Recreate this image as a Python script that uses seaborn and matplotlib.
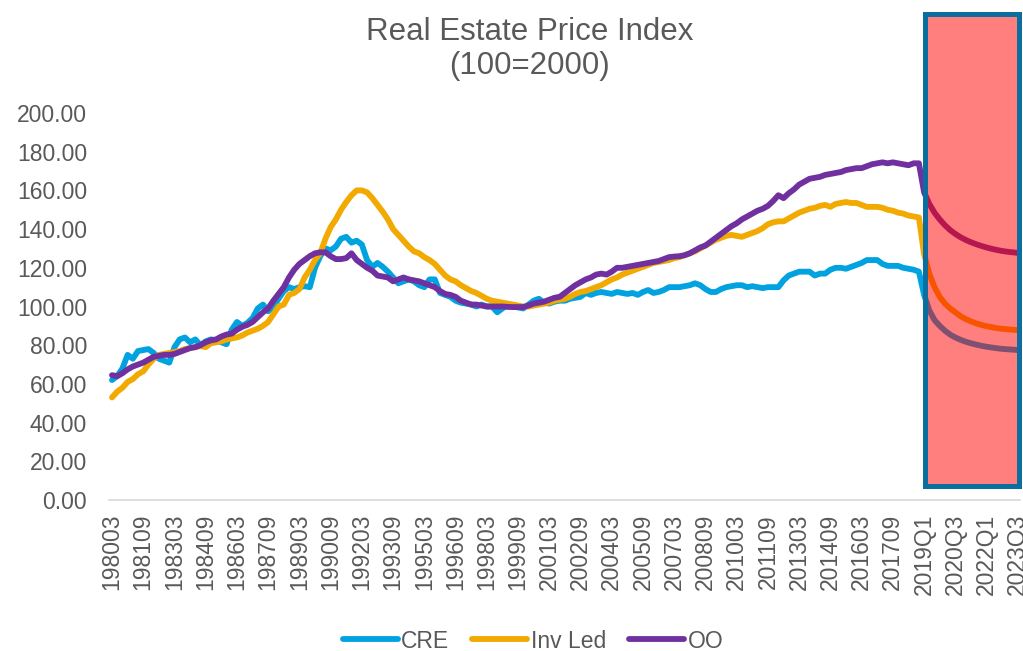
import pandas as pd
import matplotlib
matplotlib.use("Agg")
import matplotlib.pyplot as plt
import seaborn as sns
from matplotlib.patches import Rectangle

# quarterly index values, 1980Q1 .. 2018Q4 (history) and 2019Q1 .. 2023Q3 (forecast)
cre_hist = [62, 64, 68, 75, 73, 77, 77.5, 78, 76, 73,
            72, 71, 79, 83, 84, 81.5, 83, 80, 82, 83,
            82.5, 81.5, 80.5, 88, 92, 90, 91.5, 94, 99, 101,
            97.5, 100, 104, 108, 110, 109, 110, 110.5, 110, 120,
            126, 130, 129, 131, 135, 136, 133, 134, 132, 124,
            120.5, 122.5, 120.5, 118, 115, 112, 113, 114, 113, 111,
            110, 114, 114, 107, 106, 105, 103, 102, 101.5, 101,
            100, 101, 100, 100, 97, 99, 101, 100, 99.5, 99,
            101, 103, 104, 102, 101.5, 102.5, 103, 103, 104, 104.5,
            105, 107, 106, 107, 107.5, 107, 106.5, 107.5, 107, 106.5,
            107, 106, 107.5, 108.5, 107, 107.5, 108.5, 110, 110, 110,
            110.5, 111, 112, 111, 109, 107.5, 107.5, 109, 110, 110.5,
            111, 111, 110, 110.5, 110, 109.5, 110, 110, 110, 113.5,
            116, 117, 118, 118, 118, 116, 117, 117, 119, 120,
            120, 119.5, 120.5, 121.5, 122.5, 124, 124, 124, 122, 121,
            121, 121, 120, 119.5, 119, 118]
cre_fcst = [106, 98, 93, 90, 87.5, 85.5, 84, 82.8, 81.8, 81,
            80.3, 79.7, 79.2, 78.8, 78.4, 78.1, 77.9, 77.7, 77.5]

inv_hist = [53, 56, 58, 61, 62.5, 65, 66.5, 70, 73, 75,
            75.5, 76, 76.5, 77, 78, 78.5, 79, 79.5, 79, 81,
            81.5, 82, 83, 83.5, 84, 85, 86.5, 87.5, 88.5, 90,
            92, 96, 100, 101, 106, 107, 109, 115, 119, 124,
            127.5, 135, 141, 145, 150, 154, 157.5, 160, 160, 159,
            156, 152.5, 149, 145, 140, 137, 134, 131, 128.5, 127.5,
            125.5, 124, 122, 119, 116, 114, 113, 111, 109.5, 108,
            107, 105.5, 104, 103, 102.5, 102, 101.5, 101, 100.5, 100,
            100, 100.5, 101, 101.5, 102, 103, 103.5, 104, 105, 106.5,
            107.5, 108, 109, 110, 111, 112.5, 114, 115, 116.5, 117.5,
            118.5, 119.5, 120.5, 121.5, 122.5, 123, 123.5, 124, 125, 125.5,
            126.5, 127.5, 128.5, 130, 131.5, 133, 134.5, 135.5, 136.5, 137,
            136.5, 136, 137, 138, 139, 140.5, 142.5, 143.5, 144, 144,
            145.5, 147, 148.5, 149.5, 150.5, 151, 152, 152.5, 151.5, 153,
            153.5, 154, 153.5, 153.5, 152.5, 151.5, 151.5, 151.5, 151, 150,
            149.5, 148.5, 148, 147, 146.5, 146]
inv_fcst = [127, 117, 110, 105, 101.5, 99, 97, 95, 93.5, 92.3,
            91.3, 90.5, 89.8, 89.3, 88.8, 88.5, 88.2, 88, 87.8]

oo_hist = [64.5, 64, 65.5, 67.5, 69, 70, 71, 72.5, 74, 74.5,
           75, 75, 75.5, 76.5, 77.5, 78.5, 79, 80, 81.5, 82.5,
           83, 84.5, 85.5, 86, 88, 89.5, 90.5, 92, 94.5, 97,
           99, 103, 106.5, 110, 115, 119, 122, 124, 126, 127.5,
           128, 128, 126, 124.5, 124.5, 125, 127.5, 124, 122, 120,
           118.5, 116, 115.5, 115, 113, 114, 115, 114, 113.5, 113,
           112, 111, 110, 108, 106.5, 106, 105, 103, 102, 101,
           101, 100.5, 100, 100, 100, 100, 99.8, 99.7, 99.7, 99.7,
           100.5, 101.5, 102, 102.5, 103.5, 104.5, 105, 107, 109, 111,
           112.5, 114, 115, 116.5, 117, 116.5, 118, 120, 120, 120.5,
           121, 121.5, 122, 122.5, 123, 123.5, 124.5, 125.5, 125.8, 126,
           126.5, 127.5, 129, 130.5, 131.5, 133.5, 135.5, 137.5, 139.5, 141.5,
           143, 145, 146.5, 148, 149.5, 150.5, 152, 154.5, 157.5, 156,
           158.5, 160.5, 163, 164.5, 166, 166.5, 167, 168, 168.5, 169,
           169.5, 170.5, 171, 171.5, 171.5, 172.5, 173.5, 174, 174.5, 174,
           174.5, 174, 173.5, 173, 174, 174]
oo_fcst = [159, 153, 148.5, 145, 142, 139.5, 137.5, 135.8, 134.4, 133.2,
           132.2, 131.3, 130.5, 129.8, 129.2, 128.7, 128.3, 128, 127.7]

series_names = ["CRE", "Inv Led", "OO"]
colors = ["#00A2E0", "#F2A900", "#7030A0"]
tick_labels = ["198003", "198109", "198303", "198409", "198603", "198709",
               "198903", "199009", "199203", "199309", "199503", "199609",
               "199803", "199909", "200103", "200209", "200403", "200509",
               "200703", "200809", "201003", "201109", "201303", "201409",
               "201603", "201709", "2019Q1", "2020Q3", "2022Q1", "2023Q3"]

cre = cre_hist + cre_fcst
inv = inv_hist + inv_fcst
oo = oo_hist + oo_fcst
n = len(cre)

df = pd.DataFrame({
    "idx": list(range(n)) * 3,
    "value": cre + inv + oo,
    "series": [series_names[0]] * n + [series_names[1]] * n + [series_names[2]] * n,
})

sns.set_style("white")
plt.rcParams["font.family"] = ["Liberation Sans", "DejaVu Sans"]
grey = "#595959"
lw = 4.2

fig = plt.figure(figsize=(10.23, 6.51), dpi=100)
ax = fig.add_axes([109.4 / 1023, 1 - 500 / 651, 911 / 1023, 387 / 651])

sns.lineplot(data=df, x="idx", y="value", hue="series",
             palette=dict(zip(series_names, colors)), linewidth=lw, ax=ax)
for line in ax.get_lines():
    line.set_solid_joinstyle("round")

ax.set_xlim(-0.5, n - 0.5)
ax.set_ylim(0, 200)
ax.set_yticks(range(0, 201, 20))
ax.set_yticklabels([f"{v:.2f}" for v in range(0, 201, 20)])
ax.set_xticks(range(0, n, 6))
ax.set_xticklabels(tick_labels, rotation=90, va="top", ha="center")
ax.set_xlabel("")
ax.set_ylabel("")
ax.tick_params(axis="both", length=0, labelsize=16.5, colors=grey)
ax.tick_params(axis="y", pad=16)
ax.tick_params(axis="x", pad=10)
for s in ["left", "top", "right"]:
    ax.spines[s].set_visible(False)
ax.spines["bottom"].set_color("#D9D9D9")
ax.spines["bottom"].set_linewidth(1.2)

leg = ax.legend(loc="center", bbox_to_anchor=(533 / 1023, 1 - 641 / 651),
                bbox_transform=fig.transFigure, ncol=3, frameon=False,
                fontsize=16.5, handlelength=2.4, handletextpad=0.15,
                columnspacing=1.0)
for t in leg.get_texts():
    t.set_color(grey)
for h in leg.get_lines():
    h.set_linewidth(lw)

fig.text(0.518, 1 - 49 / 651, "Real Estate Price Index\n(100=2000)",
         ha="center", va="center", fontsize=22.5, color=grey,
         multialignment="center", linespacing=1.15)

# forecast highlight box
fig.add_artist(Rectangle((924.5 / 1023, 1 - 485.5 / 651), 94 / 1023, 471.5 / 651,
                         transform=fig.transFigure, facecolor=(1, 0, 0, 0.5),
                         edgecolor="#0B6E9E", linewidth=3.6, zorder=10))

fig.savefig("out.png", dpi=100)
